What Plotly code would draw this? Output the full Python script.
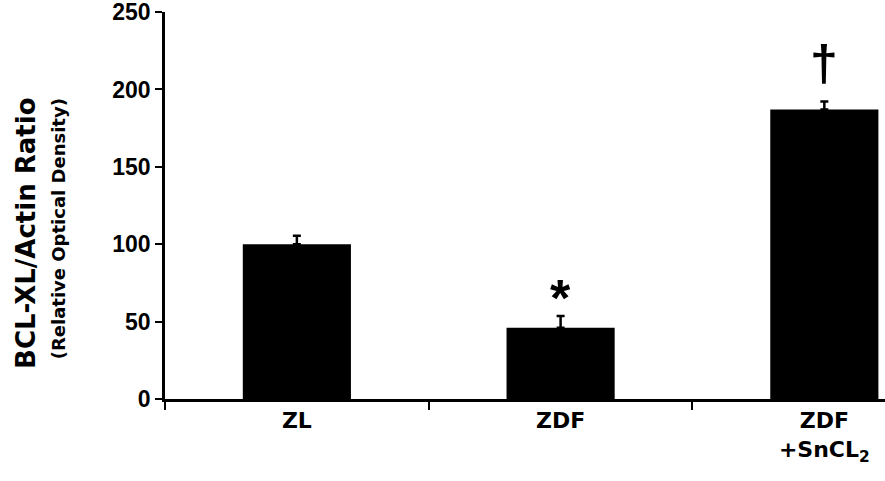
import plotly.graph_objects as go

categories = ["ZL", "ZDF", "ZDF<br>+SnCL<sub>2</sub>"]
values = [100, 46, 187]
errors = [5.5, 7.7, 5.2]
y_ticks = [0, 50, 100, 150, 200, 250]
marks = ["", "*", "†"]
mark_y = [0, 65, 217]

ARIAL = "Liberation Sans, Arial, sans-serif"
WIDE = "DejaVu Sans, Verdana, sans-serif"

fig = go.Figure()
fig.add_trace(go.Bar(
    x=categories, y=values, width=0.41,
    marker=dict(color="black", line=dict(width=0)),
    error_y=dict(type="data", array=errors, symmetric=False, arrayminus=[0, 0, 0],
                 color="black", thickness=2.5, width=4),
))

for c, m, my in zip(categories, marks, mark_y):
    if m:
        fig.add_annotation(x=c, y=my, text=m, showarrow=False,
                           font=dict(family=ARIAL, size=52 if m == "*" else 50,
                                     color="black", weight="bold"),
                           xanchor="center", yanchor="middle")

fig.add_annotation(xref="paper", yref="paper", x=-0.193, y=0.782, text="BCL-XL/Actin Ratio",
                   textangle=-90, showarrow=False, xanchor="center", yanchor="top",
                   font=dict(family=WIDE, size=26, color="black", weight="bold"))
fig.add_annotation(xref="paper", yref="paper", x=-0.148, y=0.782, text="(Relative Optical Density)",
                   textangle=-90, showarrow=False, xanchor="center", yanchor="top",
                   font=dict(family=WIDE, size=18, color="black", weight="bold"))

fig.update_layout(
    width=885, height=481,
    margin=dict(l=165, r=0, t=12, b=82),
    paper_bgcolor="white", plot_bgcolor="white",
    showlegend=False,
    font=dict(family=ARIAL, color="black"),
)
fig.update_xaxes(
    type="category", range=[-0.5, 2.23],
    showline=True, linecolor="black", linewidth=3,
    ticks="outside", tickson="boundaries", ticklen=8, tickwidth=2, tickcolor="black",
    tickfont=dict(family=WIDE, size=22, color="black", weight="bold"),
    showgrid=False, zeroline=False,
)
fig.update_yaxes(
    range=[0, 250.05], tickvals=y_ticks, ticktext=[str(v) for v in y_ticks],
    showline=True, linecolor="black", linewidth=2.5,
    ticks="outside", ticklen=7, tickwidth=2, tickcolor="black",
    tickfont=dict(family=ARIAL, size=23, color="black", weight="bold"),
    ticklabeloverflow="allow",
    showgrid=False, zeroline=False,
)

fig.write_html("out.html", config={"displayModeBar": False},
               post_script="document.body.style.margin='0';")
